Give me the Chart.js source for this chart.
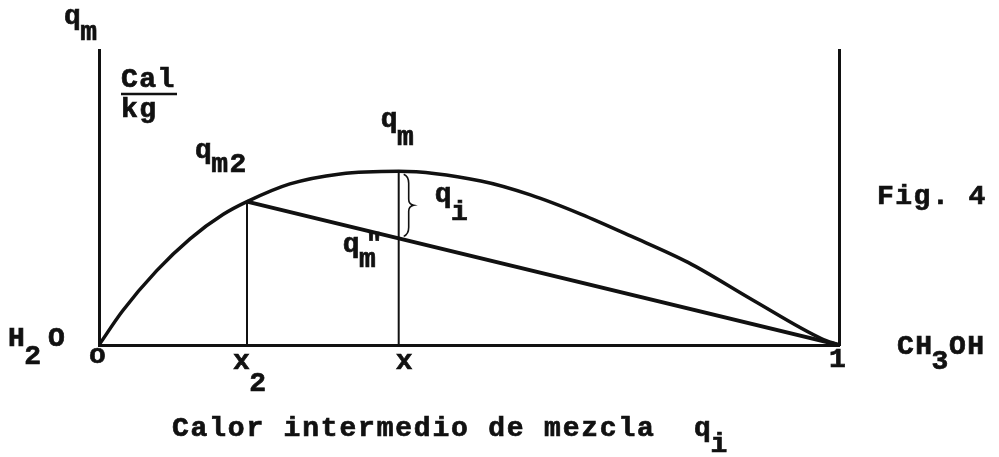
<!DOCTYPE html>
<html>
<head>
<meta charset="utf-8">
<script src="https://cdn.jsdelivr.net/npm/chart.js@4/dist/chart.umd.min.js"></script>
<style>
  html, body { margin: 0; padding: 0; background: #fff; }
  #wrap { width: 999px; height: 457px; }
</style>
</head>
<body>
<div id="wrap"><canvas id="myChart"></canvas></div>
<script>
// mole fraction of methanol (0 = H2O, 1 = CH3OH)
const molFrac = [0, 0.032, 0.078, 0.123, 0.168, 0.200, 0.258, 0.326, 0.405, 0.516, 0.583, 0.651, 0.719, 0.796, 0.885, 0.976, 1];
// integral heat of mixing q_m, Cal/kg
const heatMix = [0, 11.6, 25.2, 36.0, 44.3, 48.6, 54.6, 58.0, 58.9, 55.6, 50.9, 44.4, 36.9, 28.0, 15.0, 2.2, 0];

// the two marked compositions and their q_m values
const x2 = 0.200, qm2 = 48.6;
const xm = 0.405, qm = 58.9;

// chord from q_m2 down to pure methanol
const chordX = [x2, 1];
const chordQ = [qm2, 0];

const tickVals = [0, x2, xm, 1];
const tickText = [['o', ''], ['x', '2'], ['x', ''], ['1', '']];

const INK = '#111';
const FONT = 'bold 28px "Liberation Mono", "DejaVu Sans Mono", monospace';

function pts(xs, ys) {
    return xs.map((v, i) => ({x: v, y: ys[i]}));
}

// heavier typewriter look: fill plus a thin stroke
function ink(ctx, s, x, y) {
    ctx.fillText(s, x, y);
    ctx.strokeText(s, x, y);
}

// text with a subscript (same size, dropped down)
function subText(ctx, base, sub, x, y, drop) {
    ink(ctx, base, x, y);
    if (sub) {
        const w = ctx.measureText(base).width;
        ink(ctx, sub, x + w - 2, y + drop);
    }
}

const labelsPlugin = {
    id: 'labels',
    afterDraw(chart) {
        const ctx = chart.ctx;
        const xs = chart.scales.x, ys = chart.scales.y;
        const area = chart.chartArea;
        ctx.save();
        ctx.fillStyle = INK;
        ctx.strokeStyle = INK;
        ctx.font = FONT;
        ctx.letterSpacing = '1.5px';
        ctx.textBaseline = 'alphabetic';
        ctx.textAlign = 'left';
        ctx.lineWidth = 0.7;

        // tick labels along the baseline
        tickVals.forEach((v, i) => {
            const px = xs.getPixelForValue(v);
            const t = tickText[i];
            let dx = -14, y = area.bottom + 24;
            if (i === 0) { dx = -10; y = area.bottom + 18; }
            if (i === 2) { dx = -3; }
            if (i === 3) { dx = -10; y = area.bottom + 22; }
            subText(ctx, t[0], t[1], px + dx, y, 22);
        });

        // y axis name and unit
        subText(ctx, 'q', 'm', area.left - 35, area.top - 26, 16);
        ink(ctx, 'Cal', area.left + 22, area.top + 37);
        ink(ctx, 'kg', area.left + 22, area.top + 67);

        // end-member names
        subText(ctx, 'H', '2', 8, area.bottom + 1, 18);
        ink(ctx, 'O', 48, area.bottom + 1);
        subText(ctx, 'CH', '3', area.right + 58, area.bottom + 9, 15);
        ink(ctx, 'OH', area.right + 110, area.bottom + 9);
        ink(ctx, 'Fig. 4', area.right + 38, 204);

        // point labels
        const p2x = xs.getPixelForValue(x2), p2y = ys.getPixelForValue(qm2);
        subText(ctx, 'q', 'm2', p2x - 52, p2y - 44, 14);
        const pmx = xs.getPixelForValue(xm), pmy = ys.getPixelForValue(qm);
        subText(ctx, 'q', 'm', pmx - 18, pmy - 44, 18);
        const chordAtX = qm2 * (1 - xm) / (1 - x2);
        const pcy = ys.getPixelForValue(chordAtX);
        subText(ctx, 'q', 'm', pmx - 56, pcy + 14, 15);
        ink(ctx, '"', pmx - 33, pcy + 14);
        subText(ctx, 'q', 'i', pmx + 36, (pmy + pcy) / 2 - 3, 18);

        // fraction bar under Cal
        ctx.lineWidth = 2.5;
        ctx.beginPath();
        ctx.moveTo(area.left + 22, area.top + 44);
        ctx.lineTo(area.left + 78, area.top + 44);
        ctx.stroke();

        // brace between q_m and the chord
        const bx = pmx + 5, y0 = pmy + 3, y1 = pcy - 2, mid = (y0 + y1) / 2;
        ctx.lineWidth = 1.6;
        ctx.beginPath();
        ctx.moveTo(bx, y0);
        ctx.quadraticCurveTo(bx + 5, y0 + 2, bx + 5, y0 + 9);
        ctx.lineTo(bx + 5, mid - 6);
        ctx.quadraticCurveTo(bx + 5, mid - 1, bx + 10, mid);
        ctx.quadraticCurveTo(bx + 5, mid + 1, bx + 5, mid + 6);
        ctx.lineTo(bx + 5, y1 - 9);
        ctx.quadraticCurveTo(bx + 5, y1 - 2, bx, y1);
        ctx.stroke();

        // axis caption
        ctx.lineWidth = 0.7;
        ctx.letterSpacing = '1.8px';
        ink(ctx, 'Calor intermedio de mezcla', 172, 436);
        subText(ctx, 'q', 'i', 694, 436, 16);
        ctx.restore();
    }
};

function drawChart()
{
    const data = {
        datasets: [
            {
                label: 'q_m',
                data: pts(molFrac, heatMix),
                borderColor: INK,
                borderWidth: 3.5,
                cubicInterpolationMode: 'monotone',
                pointRadius: 0
            },
            {
                label: 'cuerda',
                data: pts(chordX, chordQ),
                borderColor: INK,
                borderWidth: 4,
                pointRadius: 0
            },
            {
                label: 'x2',
                data: pts([x2, x2], [0, qm2]),
                borderColor: INK,
                borderWidth: 2,
                pointRadius: 0
            },
            {
                label: 'x',
                data: pts([xm, xm], [0, qm]),
                borderColor: INK,
                borderWidth: 2,
                pointRadius: 0
            }
        ]
    };

    const axisBorder = {display: true, color: INK, width: 3};

    const config = {
        type: 'line',
        data: data,
        plugins: [labelsPlugin],
        options: {
            responsive: true,
            maintainAspectRatio: false,
            animation: false,
            layout: {padding: {left: 91, right: 152, top: 50, bottom: 104}},
            plugins: {legend: {display: false}, tooltip: {enabled: false}},
            scales: {
                x: {
                    type: 'linear', min: 0, max: 1,
                    grid: {display: false}, border: axisBorder,
                    ticks: {display: false}
                },
                y: {
                    min: 0, max: 100, position: 'left',
                    grid: {display: false}, border: axisBorder,
                    ticks: {display: false}
                },
                y2: {
                    min: 0, max: 100, position: 'right',
                    grid: {display: false}, border: axisBorder,
                    ticks: {display: false}
                }
            }
        }
    };

    const myChart = new Chart(document.getElementById('myChart'), config);
}

window.onload = drawChart;
</script>
</body>
</html>
